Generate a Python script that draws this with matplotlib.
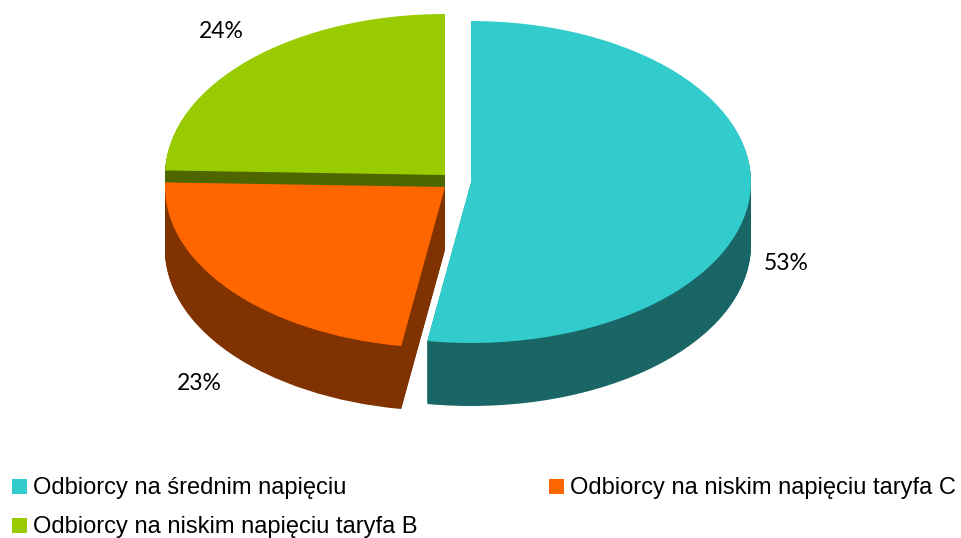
"""
3d style pie chart of customer groups
"""

from matplotlib.patches import Rectangle
import matplotlib.pyplot as plt

# clockwise from 12 o'clock
LABELS = [
    "Odbiorcy na średnim napięciu",
    "Odbiorcy na niskim napięciu taryfa C",
    "Odbiorcy na niskim napięciu taryfa B",
]
SHARES = [52.5, 22.95, 24.55]
PCT_LABELS = ["53%", "23%", "24%"]
COLORS = ["#33CCCC", "#FF6600", "#99CC00"]
DARK_COLORS = ["#1A6666", "#803300", "#4D6600"]

W, H = 962, 538
SQUASH = 161 / 280  # ellipse height / width
DEPTH = 63

# pixel position of each slice's apex
CENTERS = [(471, 182), (445, 187), (445, 175)]
PCT_POS = [(786, 263), (199, 383), (221, 32)]
LEGEND_POS = [(12, 479), (549, 479), (12, 518)]


def to_y(py):
    # pixel row to data y, the axes are stretched so circles become ellipses
    return (H - py) / SQUASH


def draw_slice(ax, share, start, center, color):
    wedges, _ = ax.pie(
        [share, 100 - share],
        colors=[color, "none"],
        startangle=90 - start * 3.6,
        counterclock=False,
        center=(center[0], to_y(center[1])),
        radius=280,
        normalize=True,
    )
    wedges[1].set_visible(False)


fig = plt.figure(figsize=(W / 100, H / 100), dpi=100)
ax = fig.add_axes([0, 0, 1, 1])

starts = [sum(SHARES[:i]) for i in range(3)]

# green first, then orange on top of it, teal is separate
for i in [2, 1, 0]:
    cx, cy = CENTERS[i]
    for d in range(DEPTH, 0, -1):
        draw_slice(ax, SHARES[i], starts[i], (cx, cy + d), DARK_COLORS[i])
    draw_slice(ax, SHARES[i], starts[i], (cx, cy), COLORS[i])

ax.set_aspect("auto")
ax.set_xlim(0, W)
ax.set_ylim(0, H / SQUASH)
ax.axis("off")

for label, (px, py) in zip(PCT_LABELS, PCT_POS):
    fig.text(
        px / W, 1 - py / H, label, family="Lato", fontsize=16.5,
        ha="center", va="center", color="black",
    )

for label, color, (px, py) in zip(LABELS, COLORS, LEGEND_POS):
    fig.add_artist(
        Rectangle((px / W, 1 - (py + 15) / H), 15 / W, 15 / H,
                  transform=fig.transFigure, color=color, lw=0)
    )
    fig.text(
        (px + 21) / W, 1 - (py + 9) / H, label, family="Liberation Sans",
        fontsize=17, ha="left", va="center", color="black",
    )

fig.savefig("out.png", dpi=100)
